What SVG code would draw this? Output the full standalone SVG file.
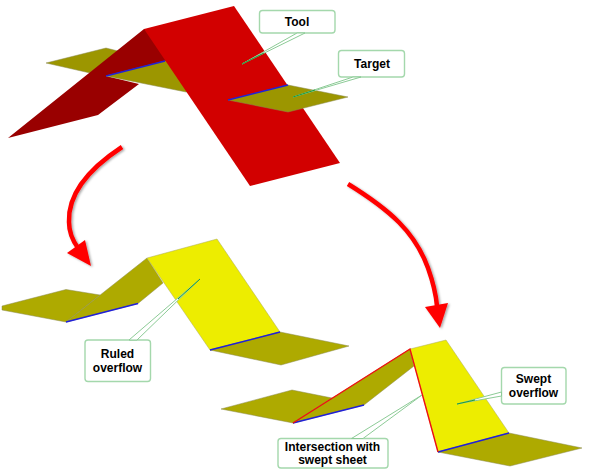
<svg xmlns="http://www.w3.org/2000/svg" width="589" height="472" viewBox="0 0 589 472">
<style>
.red{fill:#d20000}
.dark{fill:#990000}
.ot{fill:#9c9600;stroke:#8a8a50;stroke-width:.5}
.ol{fill:#aeaa00;stroke:#8a8a50;stroke-width:.5}
.yel{fill:#eded00;stroke:#a8a860;stroke-width:.5}
.blue{stroke:#2020d8;stroke-width:1.4;fill:none}
.rl{stroke:#ee1010;stroke-width:1.4;fill:none}
.box{fill:#fff;stroke:#a4d8ac;stroke-width:1.4}
.tail{fill:#fff;stroke:#8ccb96;stroke-width:1;stroke-linejoin:miter}
.tip{stroke:#1f9a35;stroke-width:1;fill:none}
.lbl{font:bold 12px "Liberation Sans",Arial,sans-serif;fill:#000;text-anchor:middle}
.arr{stroke:#f00;stroke-width:4.5;fill:none}
.hd{fill:#f00}
</style>
<defs>
<filter id="sh" x="-20%" y="-20%" width="140%" height="140%"><feDropShadow dx="1.5" dy="1" stdDeviation="0.8" flood-color="#000" flood-opacity="0.35"/></filter>
</defs>
<g id="top-model">
<polygon class="ot" points="46,63 106,48 118,51 90,73"/>
<polygon class="dark" points="144,29 8,138 98,115 139,84 106,76 170,61 150,29"/>
<polygon class="ot" points="106,76 165,61 172,61 192,92 186,92"/>
<polygon class="red" points="144,29 234,6 340,163 250,186"/>
<polygon class="ot" points="228,100 288,85 348,97 288,112"/>
<path class="blue" d="M106,76 165,61M228,100 288,85"/>
</g>
<g id="ruled-model">
<polygon class="ol" points="2,306 66,289.500 100,295 66,322 2,310"/>
<polygon class="ol" points="66,322 147,258 163,283 138,303.500"/>
<polygon class="yel" points="147,258 217,239 280,332 210,350"/>
<polygon class="ol" points="210,350 280,332 349,346 281,365"/>
<path class="blue" d="M66,322 138,303.500M210,350 280,332"/>
</g>
<g id="swept-model">
<polygon class="ol" points="221,409 292,390 332,398 293,423"/>
<polygon class="ol" points="293,423 410,349 414,366 364,405"/>
<polygon class="yel" points="410,349 446,340 509,433 438,452"/>
<polygon class="ol" points="438,452 509,433 582,448 510,466"/>
<path class="blue" d="M293,423 364,405M438,452 509,433"/>
<path class="rl" d="M293,423 410,349 438,452"/>
</g>
<g id="connectors">
<g filter="url(#sh)">
<path class="arr" d="M122,147C84,172 68,198 69,222C69,233 73,241 78,248"/>
<polygon class="hd" points="91,266 67,253 85,240"/>
</g>
<g filter="url(#sh)">
<path class="arr" d="M348,184C390,210 415,232 428,268C433,282 436,295 437,306"/>
<polygon class="hd" points="440,328 425,307 448,303"/>
</g>
</g>
<g id="tool-label">
<rect class="box" x="259.500" y="10.500" width="75.500" height="22.500" rx="3"/>
<polygon class="tail" points="297,33 305,33 242,64"/>
<path class="tip" d="M242,64 264,53"/>
<text class="lbl" x="297" y="26">Tool</text>
</g>
<g id="target-label">
<rect class="box" x="338.500" y="50.500" width="66" height="26.500" rx="3"/>
<polygon class="tail" points="353,77 361,77 293,97"/>
<path class="tip" d="M293,97 315,90"/>
<text class="lbl" x="372" y="68">Target</text>
</g>
<g id="ruled-label">
<rect class="box" x="85" y="340" width="65.500" height="41.500" rx="3"/>
<polygon class="tail" points="129,340 137,340 200,279"/>
<path class="tip" d="M200,279 178,299"/>
<text class="lbl" x="117.500" y="357.500">Ruled</text>
<text class="lbl" x="117.500" y="371.500">overflow</text>
</g>
<g id="swept-label">
<rect class="box" x="501.500" y="367.500" width="64.500" height="36.500" rx="3"/>
<polygon class="tail" points="501.500,392 501.500,396 457,404"/>
<path class="tip" d="M457,404 475,400"/>
<text class="lbl" x="533.500" y="383">Swept</text>
<text class="lbl" x="533.500" y="397">overflow</text>
</g>
<g id="intersection-label">
<rect class="box" x="278" y="438.500" width="110" height="29.500" rx="3"/>
<polygon class="tail" points="351.500,438.500 363,438.500 422,395"/>
<text class="lbl" x="332.500" y="450.500">Intersection with</text>
<text class="lbl" x="332.500" y="464">swept sheet</text>
</g>
</svg>
